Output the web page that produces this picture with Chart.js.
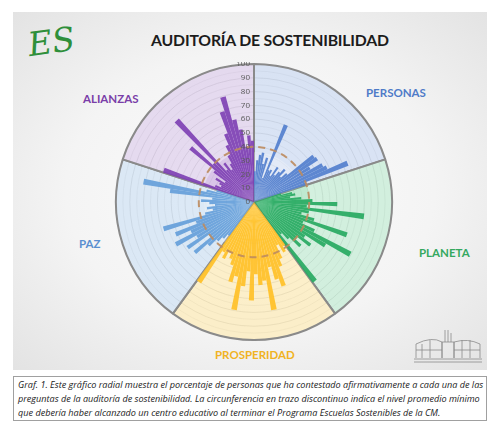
<!DOCTYPE html>
<html>
<head>
<meta charset="utf-8">
<script src="https://cdn.jsdelivr.net/npm/chart.js@4"></script>
<style>
  html, body { margin: 0; padding: 0; background: #fff; }
  body { width: 487px; height: 423px; position: relative; overflow: hidden; font-family: Lato, "Open Sans", sans-serif; }
  .panel { position: absolute; left: 13px; top: 12px; width: 474px; height: 358px;
    background: radial-gradient(ellipse at 50% 50%, #fcfcfc 0%, #f4f4f4 55%, #e3e3e3 100%); }
  .title { position: absolute; left: 0; width: 540px; top: 30px; text-align: center; font-weight: 700; font-size: 15.8px; color: #1c1c1c; letter-spacing: -0.2px; }
  .logo { position: absolute; left: 28px; top: 22px; font-family: "DejaVu Serif", serif; font-style: italic; font-size: 33px; color: #2f8f3a; transform: rotate(-8deg); }
  .sec { position: absolute; font-weight: 700; font-size: 11.5px; }
  #wrap { position: absolute; left: 114px; top: 62px; width: 280px; height: 280px; }
  .caption { position: absolute; left: 13px; top: 376px; width: 474px; height: 45px; border: 1px solid #a0a0a0; background: #fff;
    font-family: "Open Sans", sans-serif; font-style: italic; font-size: 9.1px; line-height: 14px; color: #222; padding: 1px 0 0 4px; box-sizing: border-box; white-space: nowrap; }
</style>
</head>
<body>
<div class="panel"></div>
<div class="logo">ES</div>
<div class="title">AUDITORÍA DE SOSTENIBILIDAD</div>
<div class="sec" style="left:366px;top:86px;color:#4f7bc8">PERSONAS</div>
<div class="sec" style="left:419px;top:246px;color:#35a85f">PLANETA</div>
<div class="sec" style="left:215px;top:348px;color:#f0b323">PROSPERIDAD</div>
<div class="sec" style="left:79px;top:237px;color:#5b8fd0">PAZ</div>
<div class="sec" style="left:83px;top:92px;color:#7a3ea8">ALIANZAS</div>
<div id="wrap"><canvas id="radial"></canvas></div>
<svg style="position:absolute;left:412px;top:328px" width="72" height="38" viewBox="0 0 72 38">
  <g fill="none" stroke="#8a8a8a" stroke-width="0.8">
    <path d="M4 30 L4 16 Q20 8 30 14 L30 30"/>
    <path d="M42 30 L42 14 Q56 10 68 16 L68 30"/>
    <path d="M30 30 L30 14 L42 14 L42 30"/>
    <path d="M33 14 L33 2 M36 14 L36 2 M39 14 L39 5"/>
    <path d="M4 22 L30 22 M42 22 L68 22 M10 16 L10 30 M18 12 L18 30 M50 12 L50 30 M58 12 L58 30"/>
    <path d="M2 31 L70 31 M2 34 L70 34"/>
  </g>
</svg>
<div class="caption">Graf. 1. Este gráfico radial muestra el porcentaje de personas que ha contestado afirmativamente a cada una de las<br>preguntas de la auditoría de sostenibilidad. La circunferencia en trazo discontinuo indica el nivel promedio mínimo<br>que debería haber alcanzado un centro educativo al terminar el Programa Escuelas Sostenibles de la CM.</div>
<script>
// sectors, clockwise from the top
const sectores = ['PERSONAS', 'PLANETA', 'PROSPERIDAD', 'PAZ', 'ALIANZAS'];

// % of "yes" answers per question
const personas    = [22, 30, 34, 36, 28, 33, 18, 60, 25, 26, 22, 30, 24, 28, 32, 26, 31, 54, 55, 47, 56, 58, 73, 40];
const planeta     = [20, 28, 30, 26, 34, 42, 60, 38, 80, 40, 35, 45, 71, 38, 48, 79, 60, 44, 51, 40, 46, 36, 30, 72];
const prosperidad = [38, 42, 35, 45, 50, 64, 58, 48, 79, 57, 60, 52, 71, 50, 61, 79, 55, 60, 48, 44, 40, 46, 42, 70];
const paz         = [30, 34, 38, 45, 56, 40, 58, 48, 64, 50, 61, 44, 68, 36, 30, 34, 28, 32, 38, 30, 61, 81, 35, 28];
const alianzas    = [69, 30, 26, 28, 32, 25, 36, 60, 40, 81, 30, 35, 28, 32, 38, 45, 53, 69, 79, 61, 53, 40, 48, 44];

const nivelMinimo = 40;   // dashed circle
const nivelMedio = [36, 40, 34, 36, 38];   // soft inner shading per sector
const tickLabels = [0, 10, 20, 30, 40, 50, 60, 70, 80, 90, 100];

const series = [personas, planeta, prosperidad, paz, alianzas];
const barColors = ['rgba(84,128,206,0.92)', 'rgba(40,170,98,0.92)', 'rgba(255,193,40,0.92)', 'rgba(102,160,218,0.92)', 'rgba(124,62,178,0.9)'];
const wedgeColors = ['rgba(205,219,243,0.72)', 'rgba(196,236,212,0.72)', 'rgba(253,236,184,0.72)', 'rgba(208,226,244,0.72)', 'rgba(222,206,236,0.72)'];
const innerColors = ['rgba(255,255,255,0.25)', 'rgba(90,200,130,0.16)', 'rgba(255,205,70,0.14)', 'rgba(255,255,255,0.25)', 'rgba(150,90,190,0.16)'];

const values = series.flat();
const labels = series.flatMap((s, k) => s.map((_, i) => sectores[k] + ' ' + (i + 1)));
const colorList = series.flatMap((s, k) => s.map(() => barColors[k]));

const overlay = {
  id: 'overlay',
  afterDatasetsDraw(chart) {
    const r = chart.scales.r;
    const ctx = chart.ctx;
    ctx.save();
    // dashed minimum level
    ctx.beginPath();
    ctx.arc(r.xCenter, r.yCenter, r.getDistanceFromCenterForValue(nivelMinimo), 0, Math.PI * 2);
    ctx.setLineDash([7, 5]);
    ctx.lineWidth = 2;
    ctx.strokeStyle = 'rgba(190,140,95,0.9)';
    ctx.stroke();
    ctx.setLineDash([]);
    // tick labels up the vertical axis
    ctx.font = '8px "Open Sans", sans-serif';
    ctx.fillStyle = '#5a5a5a';
    ctx.textAlign = 'right';
    ctx.textBaseline = 'middle';
    tickLabels.forEach(v => {
      ctx.fillText(String(v), r.xCenter - 4, r.yCenter - r.getDistanceFromCenterForValue(v));
    });
    ctx.restore();
  }
};

new Chart(document.getElementById('radial'), {
  type: 'polarArea',
  data: {
    labels: labels,
    datasets: [
      { label: 'Respuestas', data: values, backgroundColor: colorList, borderWidth: 0, spacing: 1, order: 0 },
      { label: 'Nivel', data: nivelMedio, backgroundColor: innerColors, borderWidth: 0, order: 1 },
      { label: 'Sectores', data: sectores.map(() => 100), backgroundColor: wedgeColors, borderColor: '#8a8a8a', borderWidth: 2, order: 2 }
    ]
  },
  options: {
    responsive: true,
    maintainAspectRatio: false,
    animation: false,
    layout: { padding: 2 },
    plugins: { legend: { display: false }, tooltip: { enabled: false } },
    scales: {
      r: {
        min: 0, max: 100,
        ticks: { display: false, stepSize: 5 },
        grid: { circular: true, lineWidth: 0.8,
          color: c => (c.tick && c.tick.value % 10 === 0) ? 'rgba(110,110,110,0.55)' : 'rgba(130,130,130,0.35)' },
        angleLines: { display: false },
        pointLabels: { display: false }
      }
    }
  },
  plugins: [overlay]
});
</script>
</body>
</html>
